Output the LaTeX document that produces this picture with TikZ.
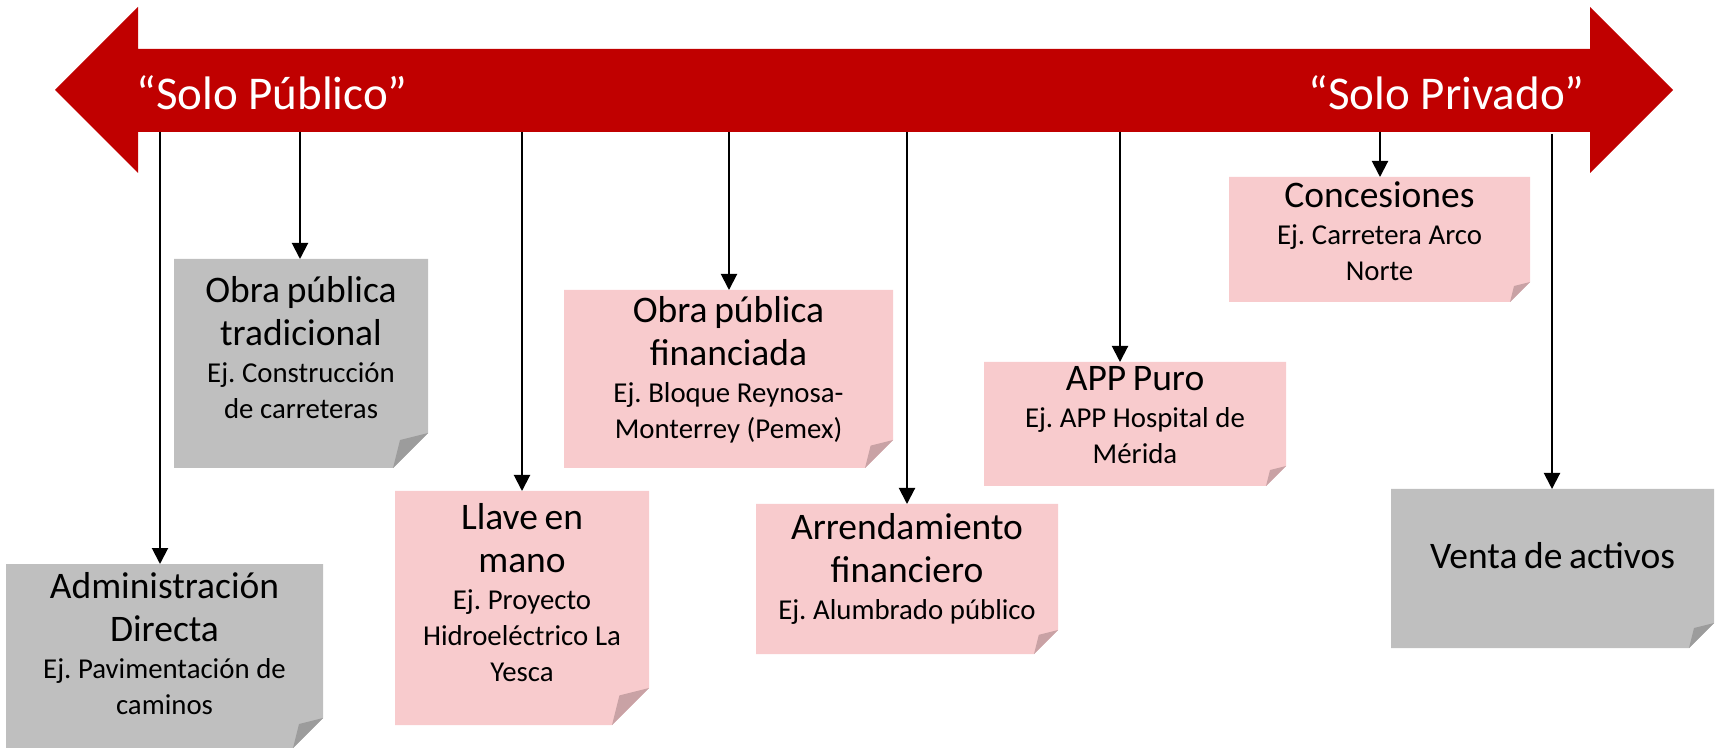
\documentclass[tikz,border=0pt]{standalone}
\usepackage{fontspec}
\setmainfont{Carlito}
\frenchspacing
\usetikzlibrary{arrows.meta}
\definecolor{bannerred}{HTML}{C00000}
\definecolor{cardgray}{HTML}{BFBFBF}
\definecolor{foldgray}{HTML}{9C9C9C}
\definecolor{cardpink}{HTML}{F8CBCD}
\definecolor{foldpink}{HTML}{C9A2A5}
\newcommand\ttlfont{\fontsize{18.75pt}{21.5pt}\selectfont}
\newcommand\subfont{\fontsize{14.4pt}{18pt}\selectfont}
\newcommand\bannerfont{\fontsize{23.5pt}{28pt}\selectfont}
% #1 name, #2 x1, #3 y1, #4 x2, #5 y2, #6 fold size, #7 fill, #8 fold fill
\newcommand\notecard[8]{%
  \node[cardframe, minimum width={(#4-#2)*0.5pt}, minimum height={(#5-#3)*0.5pt}]
    (#1) at ({(#2+#4)/2},{(#3+#5)/2}) {};
  \fill[#7] (#1.north west) -- (#1.north east) -- ([yshift=#6*0.5pt]#1.south east)
    -- ([xshift=-#6*0.5pt]#1.south east) -- (#1.south west) -- cycle;
  \fill[#8] ([xshift=-#6*0.5pt]#1.south east) -- ([xshift=-#6*0.4pt,yshift=#6*0.4pt]#1.south east)
    -- ([yshift=#6*0.5pt]#1.south east) -- cycle;
}
\begin{document}
\begin{tikzpicture}[x=0.5pt,y=-0.5pt,
  cardframe/.style={rectangle, inner sep=0pt, outer sep=0pt, draw=none},
  cardtext/.style={inner sep=0pt, text width=180pt, align=center, text=black},
  bannertext/.style={inner sep=0pt, text=white, font=\bannerfont},
  conn/.style={draw=black, line width=1pt, -{Triangle[length=8pt,width=8pt]}}]
\useasboundingbox (0,0) rectangle (1719,748);

% banner double arrow
\fill[bannerred] (55,90) -- (138,7) -- (138,49) -- (1590,49) -- (1590,7) -- (1673,90)
  -- (1590,173) -- (1590,132) -- (138,132) -- (138,173) -- cycle;
\node[bannertext, anchor=base west] (pub) at (136,110) {“Solo Público”};
\node[bannertext, anchor=base east] (priv) at (1585,110) {“Solo Privado”};

% cards
\notecard{b1}{6}{564}{323}{748}{30}{cardgray}{foldgray}
\notecard{b2}{174}{259}{428}{468}{35}{cardgray}{foldgray}
\notecard{b3}{395}{491}{649}{725}{37}{cardpink}{foldpink}
\notecard{b4}{564}{290}{893}{468}{28}{cardpink}{foldpink}
\notecard{b5}{756}{504}{1058}{654}{24}{cardpink}{foldpink}
\notecard{b6}{984}{362}{1286}{486}{20}{cardpink}{foldpink}
\notecard{b7}{1229}{177}{1530}{302}{20}{cardpink}{foldpink}
\notecard{b8}{1391}{489}{1714}{648}{25}{cardgray}{foldgray}

% texts
\node[cardtext] (t1) at (164.5,644) {{\ttlfont Administración\\Directa\par}\vspace{0.5pt}{\subfont Ej. Pavimentación de\\caminos\par}};
\node[cardtext] (t2) at (301,348) {{\ttlfont Obra pública\\tradicional\par}\vspace{0.5pt}{\subfont Ej. Construcción\\de carreteras\par}};
\node[cardtext] (t3) at (522,593) {{\ttlfont Llave en\\mano\par}\vspace{0.5pt}{\subfont Ej. Proyecto\\Hidroeléctrico La\\Yesca\par}};
\node[cardtext] (t4) at (728.5,369.5) {{\ttlfont Obra pública\\financiada\par}\vspace{0.5pt}{\subfont Ej. Bloque Reynosa-\\Monterrey (Pemex)\par}};
\node[cardtext] (t5) at (907,568.5) {{\ttlfont Arrendamiento\\financiero\par}\vspace{0.5pt}{\subfont Ej. Alumbrado público\par}};
\node[cardtext] (t6) at (1135,415) {{\ttlfont APP Puro\par}\vspace{0.5pt}{\subfont Ej. APP Hospital de\\Mérida\par}};
\node[cardtext] (t7) at (1379.5,231.5) {{\ttlfont Concesiones\par}\vspace{0.5pt}{\subfont Ej. Carretera Arco\\Norte\par}};
\node[cardtext] (t8) at (1552.5,556) {{\ttlfont Venta de activos\par}};

% connector start points on the banner
\coordinate (s1) at (160,132);
\coordinate (s2) at (300,132);
\coordinate (s3) at (522,132);
\coordinate (s4) at (729,132);
\coordinate (s5) at (907,132);
\coordinate (s6) at (1120,132);
\coordinate (s7) at (1380,132);
\coordinate (s8) at (1552,134);

\draw[conn] (s1) -- (s1 |- b1.north);
\draw[conn] (s2) -- (s2 |- b2.north);
\draw[conn] (s3) -- (s3 |- b3.north);
\draw[conn] (s4) -- (s4 |- b4.north);
\draw[conn] (s5) -- (s5 |- b5.north);
\draw[conn] (s6) -- (s6 |- b6.north);
\draw[conn] (s7) -- (s7 |- b7.north);
\draw[conn] (s8) -- (s8 |- b8.north);
\end{tikzpicture}
\end{document}
